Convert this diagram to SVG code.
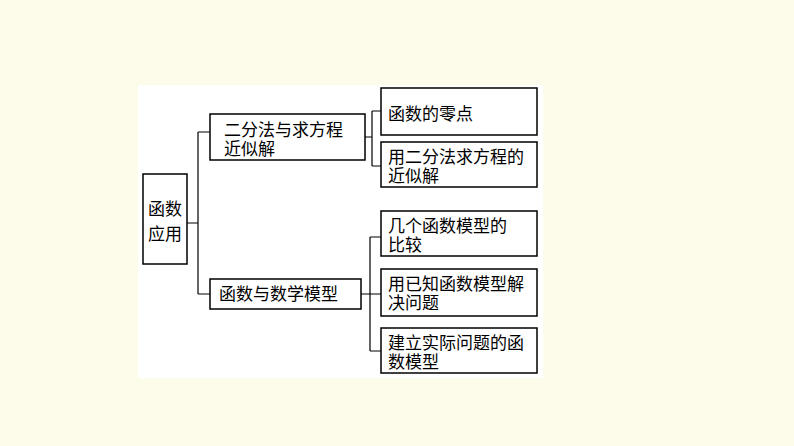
<svg xmlns="http://www.w3.org/2000/svg" width="794" height="446" viewBox="0 0 794 446">
<style>
.b{fill:#fff;stroke:#000;stroke-width:1.5}
.t{font-family:"Liberation Serif","Noto Sans CJK SC",serif;font-size:17px;fill:#000}
.c{fill:none;stroke:#000;stroke-width:1.2}
</style>
<rect width="794" height="446" fill="#fdfbea"/>
<rect x="138" y="85" width="405" height="293" fill="#fff"/>
<g id="connectors">
<path class="c" d="M187 223H198M198 132V294M198 132H210M198 294H210"/>
<path class="c" d="M365 137H372M372 111V166M372 111H381M372 166H381"/>
<path class="c" d="M361 294H381M370 237V351M370 237H381M370 351H381"/>
</g>
<g id="root"><rect class="b" x="143" y="174" width="44" height="90"/><text class="t" x="148" y="215">函数</text><text class="t" x="148" y="240">应用</text></g>
<g id="a"><rect class="b" x="210" y="114" width="155" height="46"/><text class="t" x="224" y="136">二分法与求方程</text><text class="t" x="224" y="155">近似解</text></g>
<g id="b"><rect class="b" x="210" y="279" width="151" height="30"/><text class="t" x="219" y="300">函数与数学模型</text></g>
<g id="r1"><rect class="b" x="381" y="88" width="156" height="47"/><text class="t" x="388" y="120">函数的零点</text></g>
<g id="r2"><rect class="b" x="381" y="142" width="156" height="45"/><text class="t" x="388" y="163">用二分法求方程的</text><text class="t" x="388" y="182">近似解</text></g>
<g id="r3"><rect class="b" x="381" y="211" width="156" height="45"/><text class="t" x="388" y="232">几个函数模型的</text><text class="t" x="388" y="251">比较</text></g>
<g id="r4"><rect class="b" x="381" y="269" width="156" height="47"/><text class="t" x="388" y="290">用已知函数模型解</text><text class="t" x="388" y="309">决问题</text></g>
<g id="r5"><rect class="b" x="381" y="328" width="156" height="45"/><text class="t" x="388" y="349">建立实际问题的函</text><text class="t" x="388" y="368">数模型</text></g>
</svg>
